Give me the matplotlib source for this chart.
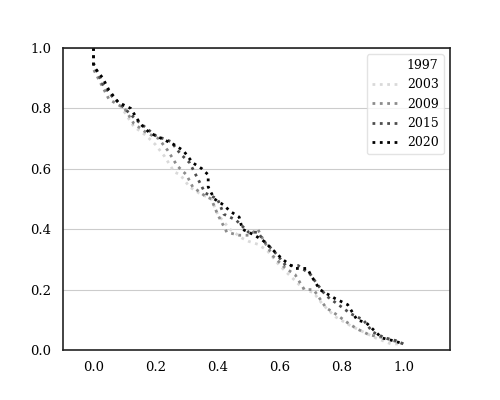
import matplotlib
matplotlib.use("Agg")
import matplotlib.pyplot as plt

plt.rcParams["font.family"] = ["DejaVu Serif"]
plt.rcParams["font.size"] = 10

years = ["1997", "2003", "2009", "2015", "2020"]
colors = ["#ffffff", "#d9d9d9", "#8c8c8c", "#4d4d4d", "#000000"]

x_1997 = [0.0, 0.0, 0.05, 0.12, 0.2, 0.3, 0.4, 0.5, 0.6, 0.7, 0.8, 0.9, 1.0]
y_1997 = [1.0, 0.93, 0.86, 0.77, 0.70, 0.60, 0.48, 0.38, 0.30, 0.22, 0.13, 0.06, 0.02]

x_2003 = [0.0, 0.0, 0.04, 0.08, 0.13, 0.17, 0.20, 0.23, 0.26, 0.28, 0.31, 0.34,
          0.38, 0.40, 0.44, 0.48, 0.50, 0.53, 0.56, 0.60, 0.63, 0.66, 0.68,
          0.71, 0.74, 0.78, 0.83, 0.87, 0.91, 0.96, 0.99]
y_2003 = [1.0, 0.93, 0.86, 0.82, 0.74, 0.71, 0.68, 0.64, 0.59, 0.58, 0.54, 0.52,
          0.50, 0.45, 0.40, 0.37, 0.36, 0.35, 0.33, 0.28, 0.25, 0.22, 0.20,
          0.19, 0.15, 0.11, 0.08, 0.06, 0.04, 0.02, 0.02]

x_2009 = [0.0, 0.0, 0.03, 0.05, 0.10, 0.13, 0.17, 0.21, 0.24, 0.27, 0.30, 0.32,
          0.36, 0.38, 0.40, 0.43, 0.47, 0.50, 0.53, 0.55, 0.58, 0.62, 0.65,
          0.68, 0.71, 0.75, 0.78, 0.82, 0.85, 0.89, 0.94, 0.97, 1.0]
y_2009 = [1.0, 0.93, 0.87, 0.83, 0.80, 0.75, 0.72, 0.70, 0.66, 0.61, 0.58, 0.54,
          0.51, 0.50, 0.45, 0.39, 0.38, 0.38, 0.40, 0.36, 0.31, 0.27, 0.25,
          0.20, 0.20, 0.14, 0.12, 0.09, 0.07, 0.05, 0.04, 0.03, 0.02]

x_2015 = [0.0, 0.0, 0.03, 0.06, 0.10, 0.14, 0.20, 0.25, 0.28, 0.31, 0.33, 0.35,
          0.36, 0.40, 0.42, 0.46, 0.50, 0.53, 0.55, 0.58, 0.62, 0.66, 0.70,
          0.72, 0.75, 0.79, 0.83, 0.87, 0.90, 0.94, 0.98, 1.0]
y_2015 = [1.0, 0.95, 0.88, 0.84, 0.80, 0.76, 0.71, 0.69, 0.65, 0.62, 0.58, 0.54,
          0.52, 0.50, 0.45, 0.43, 0.39, 0.39, 0.36, 0.33, 0.28, 0.28, 0.25,
          0.22, 0.18, 0.15, 0.12, 0.10, 0.06, 0.04, 0.03, 0.02]

x_2020 = [0.0, 0.0, 0.03, 0.05, 0.08, 0.12, 0.15, 0.18, 0.22, 0.26, 0.29, 0.32,
          0.35, 0.37, 0.37, 0.39, 0.42, 0.44, 0.47, 0.48, 0.52, 0.55, 0.58,
          0.61, 0.65, 0.69, 0.70, 0.73, 0.78, 0.82, 0.85, 0.88, 0.90, 0.93,
          0.97, 1.0]
y_2020 = [1.0, 0.94, 0.90, 0.86, 0.82, 0.80, 0.75, 0.72, 0.70, 0.68, 0.66, 0.62,
          0.60, 0.58, 0.54, 0.50, 0.48, 0.46, 0.44, 0.40, 0.38, 0.36, 0.33,
          0.30, 0.27, 0.27, 0.25, 0.20, 0.17, 0.15, 0.10, 0.09, 0.07, 0.04,
          0.03, 0.02]

series = [(x_1997, y_1997), (x_2003, y_2003), (x_2009, y_2009),
          (x_2015, y_2015), (x_2020, y_2020)]

fig, ax = plt.subplots(figsize=(5, 4), dpi=100)
fig.subplots_adjust(left=0.125, right=0.9, top=0.88, bottom=0.125)

for (xs, ys), year, c in zip(series, years, colors):
    ax.plot(xs, ys, ls=":", lw=2, color=c, label=year)

ax.set_xlim(-0.1, 1.15)
ax.set_ylim(0, 1)
ax.set_xticks([0.0, 0.2, 0.4, 0.6, 0.8, 1.0])
ax.set_yticks([0.0, 0.2, 0.4, 0.6, 0.8, 1.0])
ax.yaxis.grid(True, color="#cccccc", lw=0.8)
ax.set_axisbelow(True)
ax.tick_params(length=0, pad=8, labelsize=9.5)
for s in ax.spines.values():
    s.set_color("#222222")
    s.set_linewidth(1.2)

ax.legend(loc="upper right", edgecolor="#dddddd", fancybox=True, fontsize=9)

fig.savefig("out.png", dpi=100)
